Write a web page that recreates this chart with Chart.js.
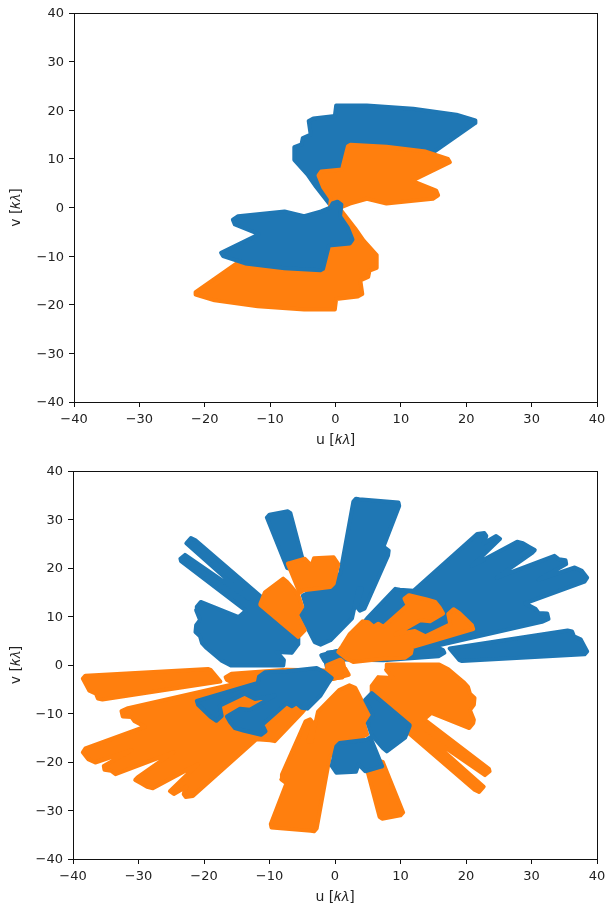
<!DOCTYPE html>
<html><head><meta charset="utf-8">
<style>html,body{margin:0;padding:0;background:#fff}canvas{position:absolute;left:0;display:block}</style>
<script src="https://cdn.jsdelivr.net/npm/chart.js@4"></script>
</head><body>
<canvas id="c1" width="606" height="450" style="top:0"></canvas>
<canvas id="c2" width="606" height="457" style="top:450px"></canvas>
<script>
const BLUE='#1f77b4', ORANGE='#ff7f0e';
const axisLimit=40;
const xLabel='u [𝑘𝜆]', yLabel='v [𝑘𝜆]';

// ---- upper panel, (u,v) outlines in kilo-lambda, listed back to front
const topBlueNE=[[0.1,21.0],[4.8,21.0],[11.9,20.3],[18.5,19.1],[21.4,17.9],[21.4,17.4],[15.0,11.4],[0.7,3.6],[-0.8,0.5],[-3.0,4.3],[-4.3,6.8],[-6.3,9.8],[-6.3,12.4],[-5.2,13.0],[-5.0,14.3],[-3.8,15.0],[-4.1,17.8],[-3.4,18.3],[-0.1,18.8]];
const topOrangeSW=[[-0.1,-21.0],[-4.8,-21.0],[-11.9,-20.3],[-18.5,-19.1],[-21.4,-17.9],[-21.4,-17.4],[-15.0,-11.4],[-0.7,-3.6],[0.8,-0.5],[3.0,-4.3],[4.3,-6.8],[6.3,-9.8],[6.3,-12.4],[5.2,-13.0],[5.0,-14.3],[3.8,-15.0],[4.1,-17.8],[3.4,-18.3],[0.1,-18.8]];
const topOrangeNE=[[1.9,12.6],[2.3,12.9],[7.8,12.5],[13.8,11.5],[17.2,10.0],[17.5,9.3],[11.7,5.5],[15.4,3.5],[15.7,2.5],[14.9,1.8],[7.8,0.8],[4.8,1.8],[2.2,0.8],[0.8,0.0],[0.4,-0.9],[-0.3,-1.2],[-0.9,-0.6],[-0.7,1.8],[-1.9,4.2],[-2.6,6.6],[-2.2,7.4],[1.0,7.8]];
const topBlueSW=[[-1.9,-12.6],[-2.3,-12.9],[-7.8,-12.5],[-13.8,-11.5],[-17.2,-10.0],[-17.5,-9.3],[-11.7,-5.5],[-15.4,-3.5],[-15.7,-2.5],[-14.9,-1.8],[-7.8,-0.8],[-4.8,-1.8],[-2.2,-0.8],[-0.8,0.0],[-0.4,0.9],[0.3,1.2],[0.9,0.6],[0.7,-1.8],[1.9,-4.2],[2.6,-6.6],[2.2,-7.4],[-1.0,-7.8]];

// ---- lower panel
const botBlueNE=[[4.9,9.6],[9.2,15.7],[9.9,15.5],[12.0,15.3],[21.7,27.0],[22.8,27.2],[23.1,26.6],[22.7,25.1],[24.6,26.6],[25.2,26.0],[20.9,20.4],[27.8,25.4],[28.7,25.1],[29.6,24.4],[30.5,23.7],[30.1,23.1],[24.7,18.0],[33.5,22.5],[34.2,21.8],[35.2,21.6],[35.3,20.8],[31.1,17.6],[36.6,20.1],[37.7,19.4],[38.5,18.0],[38.1,17.2],[29.0,12.7],[30.6,11.6],[31.1,10.7],[32.4,10.6],[32.6,9.5],[31.6,8.9],[16.0,4.1],[7.9,4.1],[0.8,3.1]];
const botBlueE=[[17.5,3.4],[35.5,7.1],[36.2,6.9],[36.5,5.9],[37.5,5.3],[38.5,2.8],[38.1,2.2],[19.4,0.8],[19.0,1.0]];
const botBlueInner=[[-2.1,2.0],[0.3,2.9],[11.5,3.9],[15.0,4.0],[16.5,3.1],[16.7,2.5],[15.8,1.8],[7.4,1.0],[-0.7,1.2],[-1.6,0.8]];
const botBlueN=[[2.8,33.7],[3.2,34.3],[3.7,34.2],[9.7,33.5],[9.8,32.8],[7.4,24.4],[8.2,23.6],[8.1,22.6],[4.5,11.6],[3.8,11.2],[3.3,12.0],[4.1,15.8],[3.6,15.8],[2.6,9.6],[-0.7,5.1],[-2.2,4.2],[-3.1,4.7],[-5.3,10.6],[-4.4,12.0],[-4.9,14.3],[-3.6,15.2],[0.3,18.2],[0.8,18.9]];
const botBlueNNW=[[-10.4,30.4],[-10.0,31.0],[-7.2,31.7],[-6.8,31.3],[-4.4,19.0],[-7.3,20.0]];
const botBlueNW=[[-23.6,21.9],[-22.9,22.7],[-13.2,13.7],[-22.7,25.1],[-22.0,26.2],[-21.3,25.7],[-10.7,13.4],[-5.6,5.5],[-5.6,4.3],[-6.6,2.5],[-8.9,2.7],[-7.8,1.0],[-7.9,-0.1],[-15.9,-0.1],[-17.3,0.9],[-19.6,3.5],[-20.3,4.5],[-20.6,5.9],[-21.3,6.8],[-21.2,8.2],[-20.6,9.3],[-21.2,11.3],[-21.1,12.0],[-20.5,13.0],[-14.7,9.9],[-13.6,11.2],[-23.5,21.4]];
const botBluePatch=[[1.2,0.0],[-0.8,-1.1],[-1.2,-0.7],[-1.6,1.7],[-1.1,2.6],[0.4,2.8],[1.2,0.6]];

const botOrangeSW=[[-4.9,-9.6],[-9.2,-15.7],[-9.9,-15.5],[-12.0,-15.3],[-21.7,-27.0],[-22.8,-27.2],[-23.1,-26.6],[-22.7,-25.1],[-24.6,-26.6],[-25.2,-26.0],[-20.9,-20.4],[-27.8,-25.4],[-28.7,-25.1],[-29.6,-24.4],[-30.5,-23.7],[-30.1,-23.1],[-24.7,-18.0],[-33.5,-22.5],[-34.2,-21.8],[-35.2,-21.6],[-35.3,-20.8],[-31.1,-17.6],[-36.6,-20.1],[-37.7,-19.4],[-38.5,-18.0],[-38.1,-17.2],[-29.0,-12.7],[-30.6,-11.6],[-31.1,-10.7],[-32.4,-10.6],[-32.6,-9.5],[-31.6,-8.9],[-16.0,-4.1],[-7.9,-4.1],[-0.8,-3.1]];
const botOrangeW=[[-17.5,-3.4],[-35.5,-7.1],[-36.2,-6.9],[-36.5,-5.9],[-37.5,-5.3],[-38.5,-2.8],[-38.1,-2.2],[-19.4,-0.8],[-19.0,-1.0]];
const botOrangeInner=[[2.1,-2.0],[-0.3,-2.9],[-11.5,-3.9],[-15.0,-4.0],[-16.5,-3.1],[-16.7,-2.5],[-15.8,-1.8],[-7.4,-1.0],[0.7,-1.2],[1.6,-0.8]];
const botOrangeS=[[-2.8,-33.7],[-3.2,-34.3],[-3.7,-34.2],[-9.7,-33.5],[-9.8,-32.8],[-7.4,-24.4],[-8.2,-23.6],[-8.1,-22.6],[-4.5,-11.6],[-3.8,-11.2],[-3.3,-12.0],[-4.1,-15.8],[-3.6,-15.8],[-2.6,-9.6],[0.7,-5.1],[2.2,-4.2],[3.1,-4.7],[5.3,-10.6],[4.4,-12.0],[4.9,-14.3],[3.6,-15.2],[-0.3,-18.2],[-0.8,-18.9]];
const botOrangeSSE=[[10.4,-30.4],[10.0,-31.0],[7.2,-31.7],[6.8,-31.3],[4.4,-19.0],[7.3,-20.0]];
const botOrangeSE=[[23.6,-21.9],[22.9,-22.7],[13.2,-13.7],[22.7,-25.1],[22.0,-26.2],[21.3,-25.7],[10.7,-13.4],[5.6,-5.5],[5.6,-4.3],[6.6,-2.5],[8.9,-2.7],[7.8,-1.0],[7.9,0.1],[15.9,0.1],[17.3,-0.9],[19.6,-3.5],[20.3,-4.5],[20.6,-5.9],[21.3,-6.8],[21.2,-8.2],[20.6,-9.3],[21.2,-11.3],[21.1,-12.0],[20.5,-13.0],[14.7,-9.9],[13.6,-11.2],[23.5,-21.4]];

const botOrangeNE=[[0.5,2.7],[1.1,3.9],[2.2,6.3],[4.2,9.0],[5.1,8.8],[5.9,7.9],[6.6,8.5],[7.4,7.9],[11.1,12.3],[10.6,13.7],[11.3,14.4],[14.0,13.5],[15.3,13.0],[16.0,11.8],[16.5,10.6],[14.5,9.0],[13.0,9.2],[9.2,6.3],[12.2,7.0],[13.8,5.9],[17.6,8.4],[17.3,10.5],[18.1,11.5],[19.0,10.7],[20.9,8.2],[21.1,7.4],[11.8,3.7],[11.6,2.4],[10.7,1.5],[7.4,1.3],[2.8,0.6],[1.7,1.4]];
const botOrangeN=[[-7.2,20.9],[-4.6,21.9],[-3.6,20.5],[-3.2,22.0],[-0.2,22.2],[0.5,20.8],[-0.2,16.8],[-0.7,16.1],[-4.8,15.4],[-5.4,14.9]];
const botOrangeNW=[[-11.4,12.6],[-10.7,15.0],[-7.9,17.8],[-7.3,17.1],[-5.6,14.4],[-5.0,12.0],[-5.8,10.3],[-4.6,7.2],[-5.6,5.8],[-11.4,12.4]];
const botOrangePatch=[[-1.2,0.0],[0.8,1.1],[1.2,0.7],[1.6,-1.7],[1.1,-2.6],[-0.4,-2.8],[-1.2,-0.6]];
const botBlueSW=[[-0.5,-2.7],[-1.1,-3.9],[-2.2,-6.3],[-4.2,-9.0],[-5.1,-8.8],[-5.9,-7.9],[-6.6,-8.5],[-7.4,-7.9],[-11.1,-12.3],[-10.6,-13.7],[-11.3,-14.4],[-14.0,-13.5],[-15.3,-13.0],[-16.0,-11.8],[-16.5,-10.6],[-14.5,-9.0],[-13.0,-9.2],[-9.2,-6.3],[-12.2,-7.0],[-13.8,-5.9],[-17.6,-8.4],[-17.3,-10.5],[-18.1,-11.5],[-19.0,-10.7],[-20.9,-8.2],[-21.1,-7.4],[-11.8,-3.7],[-11.6,-2.4],[-10.7,-1.5],[-7.4,-1.3],[-2.8,-0.6],[-1.7,-1.4]];
const botBlueS=[[7.2,-20.9],[4.6,-21.9],[3.6,-20.5],[3.2,-22.0],[0.2,-22.2],[-0.5,-20.8],[0.2,-16.8],[0.7,-16.1],[4.8,-15.4],[5.4,-14.9]];
const botBlueSE=[[11.4,-12.6],[10.7,-15.0],[7.9,-17.8],[7.3,-17.1],[5.6,-14.4],[5.0,-12.0],[5.8,-10.3],[4.6,-7.2],[5.6,-5.8],[11.4,-12.4]];

const topLayers=[[topBlueNE,BLUE],[topOrangeSW,ORANGE],[topOrangeNE,ORANGE],[topBlueSW,BLUE]];
const botLayers=[[botBlueNE,BLUE],[botBlueE,BLUE],[botBlueInner,BLUE],[botBlueN,BLUE],[botBlueNNW,BLUE],[botBlueNW,BLUE],[botBluePatch,BLUE],
 [botOrangeSW,ORANGE],[botOrangeW,ORANGE],[botOrangeInner,ORANGE],[botOrangeS,ORANGE],[botOrangeSSE,ORANGE],[botOrangeSE,ORANGE],
 [botOrangeNE,ORANGE],[botOrangeN,ORANGE],[botOrangeNW,ORANGE],[botOrangePatch,ORANGE],
 [botBlueSW,BLUE],[botBlueS,BLUE],[botBlueSE,BLUE]];

const frame={id:'frame',afterDatasetsDraw(c){const a=c.chartArea,x=c.ctx;x.save();x.strokeStyle='#111';x.lineWidth=1;
  x.strokeRect(Math.round(a.left)+.5,Math.round(a.top)+.5,Math.round(a.right-a.left),Math.round(a.bottom-a.top));x.restore();}};
const bg={id:'bg',beforeDraw(c){c.ctx.save();c.ctx.fillStyle='#fff';c.ctx.fillRect(0,0,c.width,c.height);c.ctx.restore();}};

function axis(title,size,isX,rightPad){return{
  type:'linear',min:-axisLimit,max:axisLimit,
  ticks:{stepSize:10,color:'#222',font:{family:'DejaVu Sans',size:13},padding:5,maxRotation:0,autoSkip:false,labelOffset:isX?0:1,
    callback:v=>String(v).replace('-','\u2212')},
  grid:{drawOnChartArea:false,drawTicks:true,tickLength:5,color:'#111',lineWidth:1},
  border:{display:true,color:'#111',width:1},
  title:{display:true,text:title,color:'#222',font:{family:'DejaVu Sans',size:14},padding:isX?{top:2,bottom:1}:{top:8,bottom:2}},
  afterFit(s){if(isX){s.height=size;s.paddingRight=rightPad;}else s.width=size;}
};}

function panel(id,layers,left,top,right,bottomH){
  const n=layers.length;
  new Chart(document.getElementById(id),{
    type:'scatter',
    data:{datasets:layers.map(([pts,col],i)=>({
      data:pts.concat([pts[0]]).map(([x,y])=>({x,y})),
      showLine:true,fill:'shape',backgroundColor:col,borderColor:col,borderWidth:4,
      borderJoinStyle:'round',borderCapStyle:'round',pointRadius:0,pointHoverRadius:0,tension:0,order:n-i
    }))},
    options:{responsive:false,animation:false,devicePixelRatio:1,
      layout:{padding:{top,right,left:0,bottom:0}},
      plugins:{legend:{display:false},tooltip:{enabled:false}},
      scales:{x:axis(xLabel,bottomH,true,right),y:axis(yLabel,left,false,right)}},
    plugins:[bg,frame]
  });
}
panel('c1',topLayers,74,13,9,48);
panel('c2',botLayers,73,21,9,48);
</script>
</body></html>
